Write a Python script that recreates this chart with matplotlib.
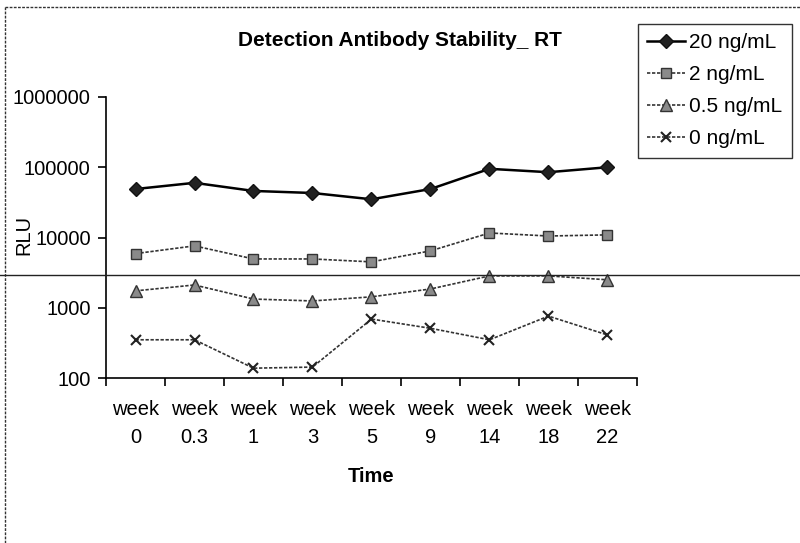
import numpy as np
import matplotlib
matplotlib.use('Agg')
import matplotlib.pyplot as plt
from matplotlib.lines import Line2D

plt.rcParams['font.family'] = ['Liberation Sans', 'DejaVu Sans']

# data
weeks = ['0', '0.3', '1', '3', '5', '9', '14', '18', '22']
rlu_20 = [49000, 60000, 46000, 43000, 35000, 49000, 95000, 85000, 100000]
rlu_2 = [5900, 7600, 4950, 4950, 4500, 6450, 11600, 10500, 10900]
rlu_05 = [1740, 2110, 1330, 1250, 1430, 1850, 2840, 2840, 2500]
rlu_0 = [350, 350, 138, 143, 690, 510, 350, 760, 410]

fig = plt.figure(figsize=(8, 5.43), dpi=100)
ax = fig.add_axes([106/800, 1 - 378/543, 531/800, 281/543])

x = np.arange(len(weeks))
dash = (0, (2.0, 1.0))
ax.plot(x, rlu_20, color='black', lw=1.8, marker='D', ms=7.5,
        mfc='#222222', mec='#111111', label='20 ng/mL')
ax.plot(x, rlu_2, color='#333333', lw=1.2, ls=dash, marker='s', ms=7.5,
        mfc='#8a8a8a', mec='#333333', label='2 ng/mL')
ax.plot(x, rlu_05, color='#333333', lw=1.2, ls=dash, marker='^', ms=8.5,
        mfc='#8a8a8a', mec='#333333', label='0.5 ng/mL')
ax.plot(x, rlu_0, color='#333333', lw=1.2, ls=dash, marker='x', ms=7.5,
        mew=1.5, mec='#222222', label='0 ng/mL')

ax.set_yscale('log')
ax.set_ylim(100, 1000000)
ax.set_xlim(-0.5, len(weeks) - 0.5)
ax.set_yticks([100, 1000, 10000, 100000, 1000000])
ax.set_yticklabels(['100', '1000', '10000', '100000', '1000000'])
ax.yaxis.set_minor_locator(matplotlib.ticker.NullLocator())

ax.set_xticks(np.arange(len(weeks) + 1) - 0.5)
ax.set_xticklabels([])
ax.set_xticks(x, minor=True)
ax.set_xticklabels(['week\n' + w for w in weeks], minor=True, fontsize=14.5,
                   linespacing=1.6)
ax.tick_params(axis='x', which='minor', length=0, pad=16)
ax.tick_params(axis='x', which='major', length=6, width=1.2, direction='out')
ax.tick_params(axis='y', length=6, width=1.2, labelsize=14.5, pad=5)

for s in ['top', 'right']:
    ax.spines[s].set_visible(False)
for s in ['left', 'bottom']:
    ax.spines[s].set_linewidth(1.2)

ax.set_ylabel('RLU', fontsize=14.5)
ax.yaxis.set_label_coords(-0.137, 0.51)
ax.set_xlabel('Time', fontsize=14.5, fontweight='bold', labelpad=14)

fig.text(400/800, 1 - 40/543, 'Detection Antibody Stability_ RT',
         ha='center', va='center', fontsize=15, fontweight='bold')

leg = fig.legend(loc='upper left', bbox_to_anchor=(638/800, 1 - 24/543),
                 fontsize=15, frameon=True, fancybox=False, edgecolor='black',
                 borderaxespad=0, handlelength=1.8, handletextpad=0.2,
                 labelspacing=0.62, borderpad=0.45)
leg.get_frame().set_linewidth(1.0)

# border and stray scan line of the original figure
fig.add_artist(Line2D([5/800, 5/800], [0, 1 - 7/543], color='#333333',
                      lw=1.0, ls=(0, (2, 1)), transform=fig.transFigure))
fig.add_artist(Line2D([5/800, 1], [1 - 7/543, 1 - 7/543], color='#333333',
                      lw=1.0, ls=(0, (2, 1)), transform=fig.transFigure))
fig.add_artist(Line2D([0, 1], [1 - 275/543, 1 - 275/543], color='#222222',
                      lw=1.0, transform=fig.transFigure))

fig.savefig('out.png', dpi=100)
